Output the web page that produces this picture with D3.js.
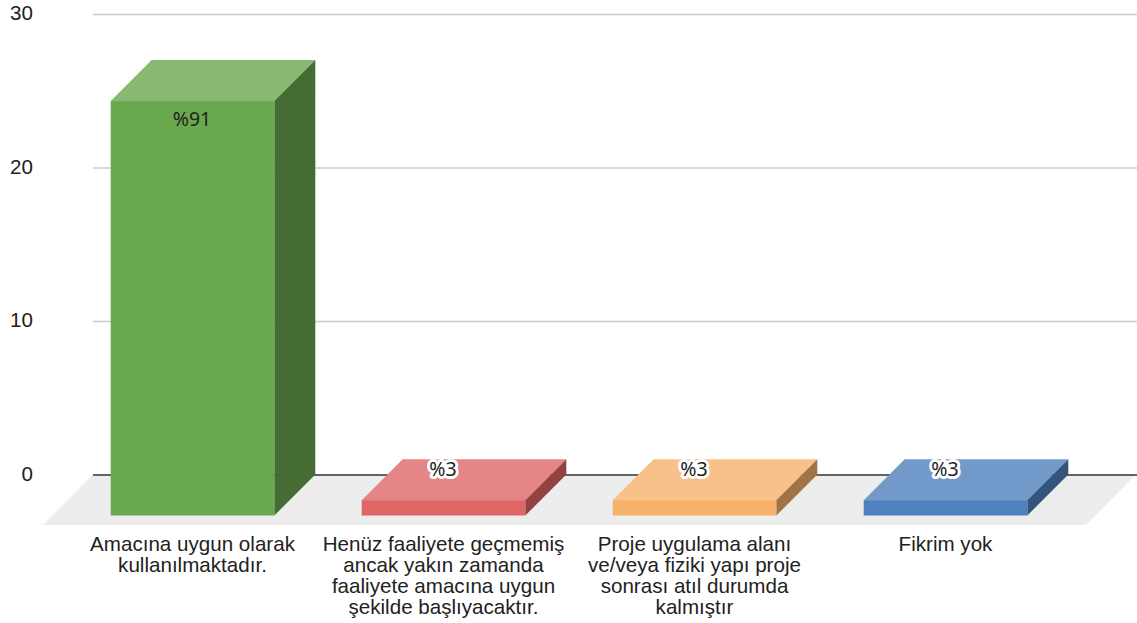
<!DOCTYPE html>
<html>
<head>
<meta charset="utf-8">
<script src="https://cdn.jsdelivr.net/npm/d3@7"></script>
<style>
  body { margin: 0; background: #fff; }
  svg { display: block; }
  text { font-family: "Liberation Sans", Arial, sans-serif; font-size: 20.6px; fill: #222; }
  .dataLabel { font-family: "Noto Sans", sans-serif; font-size: 19.5px; fill: #222; }
</style>
</head>
<body>
<div id="chart"></div>
<script>
// values
var categories = ["a", "b", "c", "d"];
var values = [27, 1, 1, 1];
var valueLabels = ["%91", "%3", "%3", "%3"];
var yTicks = [0, 10, 20, 30];
var categoryLines = [
    ["Amacına uygun olarak", "kullanılmaktadır."],
    ["Henüz faaliyete geçmemiş", "ancak yakın zamanda", "faaliyete amacına uygun", "şekilde başlıyacaktır."],
    ["Proje uygulama alanı", "ve/veya fiziki yapı proje", "sonrası atıl durumda", "kalmıştır"],
    ["Fikrim yok"]
];
var barColors = ["#6aa84f", "#e06666", "#f6b26b", "#4e81bd"];

var svgWidth = 1137;
var svgHeight = 623;

//the plot wall runs from 93 to the right edge, the front of the floor sits 41px lower
var wall = { left: 93, right: 1137, top: 14, bottom: 474.5 };
var depth = 41;

var svg = d3.select("#chart")
    .append("svg")
    .attr("width", svgWidth)
    .attr("height", svgHeight);

var yScale = d3.scaleLinear()
    .domain([0, 30])
    .range([wall.bottom, wall.top]);

var xScale = d3.scaleBand()
    .domain(categories)
    .range([67, 1071])
    .paddingInner(0.3482)
    .paddingOuter(0.1741);

//floor
svg.append("polygon")
    .attr("points", [[wall.left, wall.bottom], [1136, wall.bottom], [1086, 525], [43, 525]].join(" "))
    .attr("fill", "#ededed");

//y axis with gridlines
var leftAxis = d3.axisLeft(yScale)
    .tickValues(yTicks)
    .tickSize(wall.right - wall.left)
    .tickPadding(60);

var yAxisGroup = svg.append("g")
    .attr("transform", `translate(${wall.right}, 0)`)
    .call(leftAxis);

yAxisGroup.select(".domain").remove();
yAxisGroup.selectAll("line")
    .attr("stroke", d => d === 0 ? "#333" : "#ccc")
    .attr("stroke-width", 1.4);
yAxisGroup.selectAll("text")
    .attr("x", 33 - wall.right)
    .attr("y", -1)
    .style("font-size", "20.6px")
    .style("font-family", '"Liberation Sans", Arial, sans-serif')
    .style("fill", "#222");

//one group per bar, front face, top and side
var bars = svg.selectAll(".bar")
    .data(categories)
    .enter()
    .append("g")
    .attr("class", "bar");

function frontTop(i) { return yScale(values[i]) + depth; }
var frontBottom = yScale(0) + depth;

bars.append("polygon")
    .attr("points", (d, i) => {
        var x0 = xScale(d), x1 = x0 + xScale.bandwidth(), t = frontTop(i);
        return [[x0, t], [x0 + depth, t - depth], [x1 + depth, t - depth], [x1, t]].join(" ");
    })
    .attr("fill", (d, i) => d3.interpolateRgb(barColors[i], "#fff")(0.2));

bars.append("polygon")
    .attr("points", (d, i) => {
        var x1 = xScale(d) + xScale.bandwidth(), t = frontTop(i);
        return [[x1, t], [x1 + depth, t - depth], [x1 + depth, frontBottom - depth], [x1, frontBottom]].join(" ");
    })
    .attr("fill", (d, i) => d3.interpolateRgb(barColors[i], "#000")(0.35));

bars.append("rect")
    .attr("x", d => xScale(d))
    .attr("y", (d, i) => frontTop(i))
    .attr("width", xScale.bandwidth())
    .attr("height", (d, i) => frontBottom - frontTop(i))
    .attr("fill", (d, i) => barColors[i]);

//value labels, the short bars get a white halo on the top face
bars.append("text")
    .attr("class", "dataLabel")
    .attr("x", d => xScale(d) + xScale.bandwidth() / 2 - 0.5)
    .attr("y", (d, i) => values[i] > 5 ? frontTop(i) + 18 : frontTop(i) - depth + 10)
    .attr("dy", "0.35em")
    .attr("text-anchor", "middle")
    .attr("stroke", (d, i) => values[i] > 5 ? "none" : "#fff")
    .attr("stroke-width", 6)
    .attr("stroke-linejoin", "round")
    .attr("paint-order", "stroke")
    .text((d, i) => valueLabels[i]);

//category labels
var labels = svg.selectAll(".catLabel")
    .data(categories)
    .enter()
    .append("text")
    .attr("class", "catLabel")
    .attr("text-anchor", "middle");

labels.selectAll("tspan")
    .data((d, i) => categoryLines[i].map(line => ({ cat: d, line: line })))
    .enter()
    .append("tspan")
    .attr("x", d => xScale(d.cat) + xScale.bandwidth() / 2)
    .attr("y", (d, j) => 551 + j * 21)
    .text(d => d.line);
</script>
</body>
</html>
